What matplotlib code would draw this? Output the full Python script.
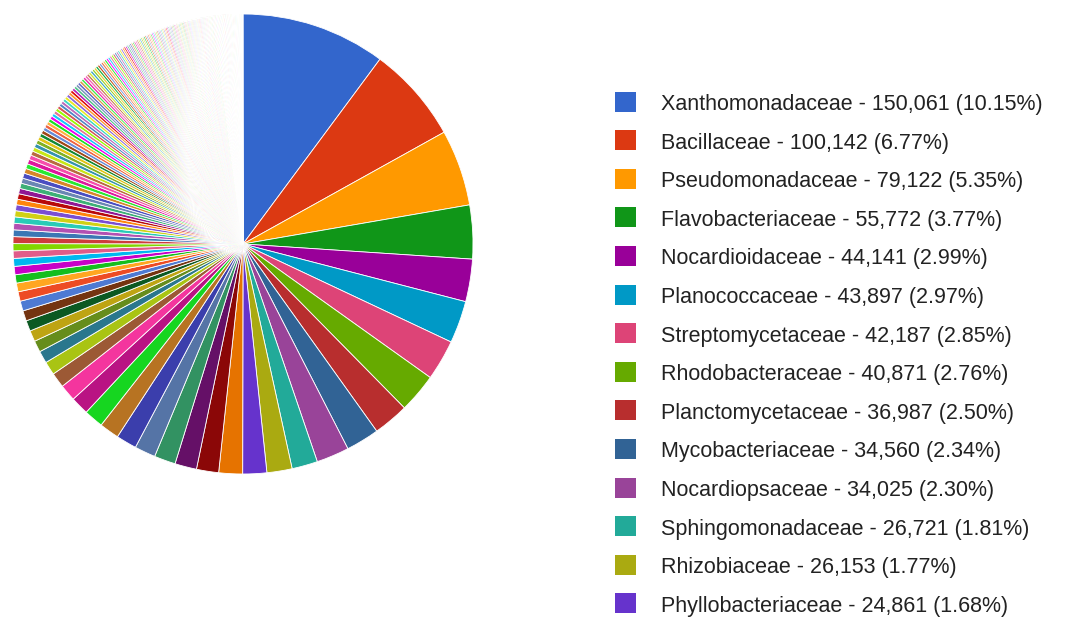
import colorsys
import matplotlib
matplotlib.use('Agg')
import matplotlib.pyplot as plt
from matplotlib.colors import to_rgb
from matplotlib.patches import Rectangle

# families shown on the legend page
families = ['Xanthomonadaceae', 'Bacillaceae', 'Pseudomonadaceae', 'Flavobacteriaceae',
            'Nocardioidaceae', 'Planococcaceae', 'Streptomycetaceae', 'Rhodobacteraceae',
            'Planctomycetaceae', 'Mycobacteriaceae', 'Nocardiopsaceae', 'Sphingomonadaceae',
            'Rhizobiaceae', 'Phyllobacteriaceae']
family_counts = [150061, 100142, 79122, 55772, 44141, 43897, 42187, 40871,
                 36987, 34560, 34025, 26721, 26153, 24861]

# remaining families (not on the legend page)
rest_1 = [24640, 23010, 22590, 22180, 21760, 21350, 20540, 20120, 18890,
          17250, 15610, 13960, 12730, 11910, 11500, 11090, 10680]
rest_2 = [10270, 9860, 9040, 8620, 8610, 8210, 7800, 7390, 7190, 6980, 6780,
          6570, 6370, 6160, 5750, 5740, 5540, 5530, 5340, 5330, 5130, 4930,
          4920, 4720, 4520, 4310, 4110, 4100, 3900, 3700, 3690]
tail_a = [3512, 3468, 3421, 3377, 3330, 3286, 3241, 3195, 3150, 3104,
          3062, 3017, 2973, 2930, 2884, 2841, 2797, 2752, 2710, 2668]
tail_b = [2630, 2597, 2563, 2530, 2498, 2465, 2431, 2399, 2366, 2334,
          2301, 2268, 2236, 2203, 2170, 2138, 2105, 2072, 2040, 2007,
          1975, 1942, 1910, 1877, 1844, 1812, 1779, 1746, 1714, 1681]
tail_c = [1655, 1642, 1632, 1619, 1608, 1594, 1584, 1571, 1560, 1546,
          1536, 1523, 1512, 1498, 1488, 1475, 1464, 1450, 1440, 1427,
          1416, 1402, 1392, 1379, 1368, 1354, 1344, 1331, 1320, 1306,
          1296, 1283, 1272, 1258, 1248, 1235, 1224, 1210, 1200, 1187,
          1176, 1162, 1152, 1139, 1127]
tail_d = [1108, 1097, 1089, 1078, 1069, 1060, 1049, 1041, 1030, 1022,
          1011, 1003, 993, 984, 974, 965, 956, 946, 937, 928,
          918, 910, 899, 891, 881, 872, 862, 854, 843, 835,
          825, 816, 806, 797, 788, 778, 769, 760, 750, 741,
          732, 722, 713, 704, 694, 685, 676, 666, 657, 648,
          638, 629, 620, 610, 601, 592, 582, 573, 564, 554,
          545, 536, 526, 517, 508, 498, 489, 480, 470, 461,
          452, 442, 433, 424, 414, 405, 396, 386, 377, 368]

palette = ['#3366cc', '#dc3912', '#ff9900', '#109618', '#990099', '#0099c6',
           '#dd4477', '#66aa00', '#b82e2e', '#316395', '#994499', '#22aa99',
           '#aaaa11', '#6633cc', '#e67300', '#8b0707', '#651067', '#329262',
           '#5574a6', '#3b3eac', '#b77322', '#16d620', '#b91383', '#f4359e',
           '#9c5935', '#a9c413', '#2a778d', '#668d1c', '#bea413', '#0c5922',
           '#743411']

counts = family_counts + rest_1 + rest_2 + tail_a + tail_b + tail_c + tail_d
total = sum(counts)


def slice_color(i):
    # palette repeats, a bit lighter on every round
    r, g, b = to_rgb(palette[i % len(palette)])
    h, l, s = colorsys.rgb_to_hls(r, g, b)
    k = i // len(palette)
    l = l + (1 - l) * (1 - 0.87 ** k)
    return colorsys.hls_to_rgb(h, l, s)


colors = [slice_color(i) for i in range(len(counts))]

W, H = 1077, 617
fig = plt.figure(figsize=(W / 100, H / 100), dpi=100)

# pie: centre (243, 244) px, radius 230 px
cx, cy, r = 243, 244, 230
pad = 5
ax = fig.add_axes([(cx - r - pad) / W, (H - cy - r - pad) / H,
                   2 * (r + pad) / W, 2 * (r + pad) / H])
ax.pie(counts, colors=colors, startangle=90, counterclock=False, radius=1,
       wedgeprops=dict(edgecolor='white', linewidth=0.6))
lim = (r + pad) / r
ax.set_xlim(-lim, lim)
ax.set_ylim(-lim, lim)
ax.axis('off')

# legend
lax = fig.add_axes([0, 0, 1, 1])
lax.set_xlim(0, W)
lax.set_ylim(H, 0)
lax.axis('off')
for i, (name, v) in enumerate(zip(families, family_counts)):
    y = 101.5 + i * 38.6
    lax.add_patch(Rectangle((615, y - 10), 21, 20, color=colors[i], lw=0))
    label = f'{name} - {v:,} ({v / total * 100:.2f}%)'
    lax.text(661, y + 8.5, label, va='baseline', ha='left', fontsize=15.5,
             family='Liberation Sans', color='#222222')

fig.savefig('out.png', dpi=100)
